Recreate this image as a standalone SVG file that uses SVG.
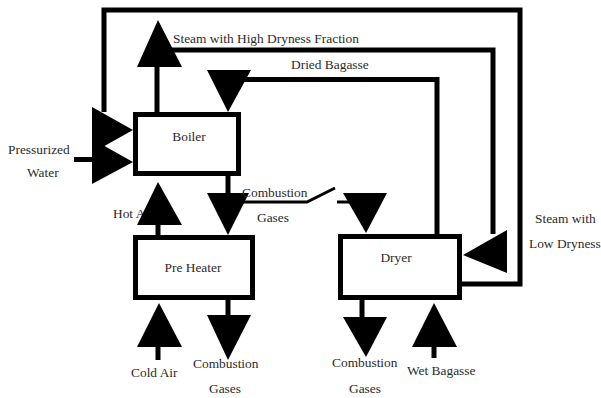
<svg xmlns="http://www.w3.org/2000/svg" width="601" height="398" viewBox="0 0 601 398">
<style>
.box{fill:#fff;stroke:#000;stroke-width:5}
.ln{fill:none;stroke:#000;stroke-width:5}
.thin{fill:none;stroke:#000;stroke-width:3}
.hd{fill:#000;stroke:none}
text{font-family:"Liberation Serif","Times New Roman",serif;font-size:13.4px;fill:#2a2a2a}
.c{text-anchor:middle}
</style>
<rect width="601" height="398" fill="#fff"/>
<g id="connectors">
  <polyline class="ln" points="460,284 520,284 520,10 104,10 104,112"/>
  <polyline class="ln" points="158,50 493,50 493,234"/>
  <polyline class="ln" points="228,79.5 437,79.5 437,236"/>
  <line class="ln" x1="157" y1="112" x2="157" y2="65"/>
  <line class="ln" x1="228" y1="176" x2="228" y2="195"/>
  <polyline class="thin" points="240,202 307,202 335,188"/>
  <line class="thin" x1="337" y1="202" x2="352" y2="202"/>
  <line class="ln" x1="158" y1="235" x2="158" y2="222"/>
  <line class="ln" x1="158" y1="360" x2="158" y2="345"/>
  <line class="ln" x1="228" y1="300" x2="228" y2="317"/>
  <line class="ln" x1="362" y1="300" x2="362" y2="319"/>
  <line class="ln" x1="434" y1="358" x2="434" y2="345"/>
  <line class="ln" x1="74" y1="159.5" x2="96" y2="159.5"/>
  <polygon class="hd" points="137,67 182,67 158,20"/>
  <polygon class="hd" points="507,230 507,273 463,255"/>
  <polygon class="hd" points="207,70 251,70 228,112"/>
  <polygon class="hd" points="207,193 249,193 228,235"/>
  <polygon class="hd" points="343,193 387,193 366,233"/>
  <polygon class="hd" points="207,315 251,315 228,360"/>
  <polygon class="hd" points="343,317 387,317 366,357"/>
  <polygon class="hd" points="412,347 457,347 434,303"/>
  <polygon class="hd" points="137,347 182,347 159,303"/>
  <polygon class="hd" points="92,107 92,153 133,130"/>
  <polygon class="hd" points="92,139 92,184 133,162"/>
</g>
<g id="labels">
  <text x="173" y="43">Steam with High Dryness Fraction</text>
  <text x="291" y="69">Dried Bagasse</text>
  <text x="8" y="154">Pressurized</text>
  <text x="27" y="177">Water</text>
  <text x="242" y="197">Combustion</text>
  <text x="257" y="222">Gases</text>
  <text x="113" y="218">Hot Air</text>
  <text x="131" y="377">Cold Air</text>
  <text x="193" y="368">Combustion</text>
  <text x="209" y="393">Gases</text>
  <text x="332" y="367">Combustion</text>
  <text x="349" y="393">Gases</text>
  <text x="407" y="375">Wet Bagasse</text>
  <text x="535" y="223">Steam with</text>
  <text x="529" y="248">Low Dryness</text>
</g>
<g id="hotair-head"><polygon class="hd" points="137,225 182,225 158,182"/></g>
<g id="boiler">
  <rect class="box" x="135.5" y="114.5" width="103" height="59"/>
  <text class="c" x="189" y="141">Boiler</text>
</g>
<g id="preheater">
  <rect class="box" x="135.5" y="237.5" width="117" height="60"/>
  <text class="c" x="193" y="272">Pre Heater</text>
</g>
<g id="dryer">
  <rect class="box" x="340.5" y="236.5" width="119" height="61"/>
  <text class="c" x="396" y="262">Dryer</text>
</g>
</svg>
